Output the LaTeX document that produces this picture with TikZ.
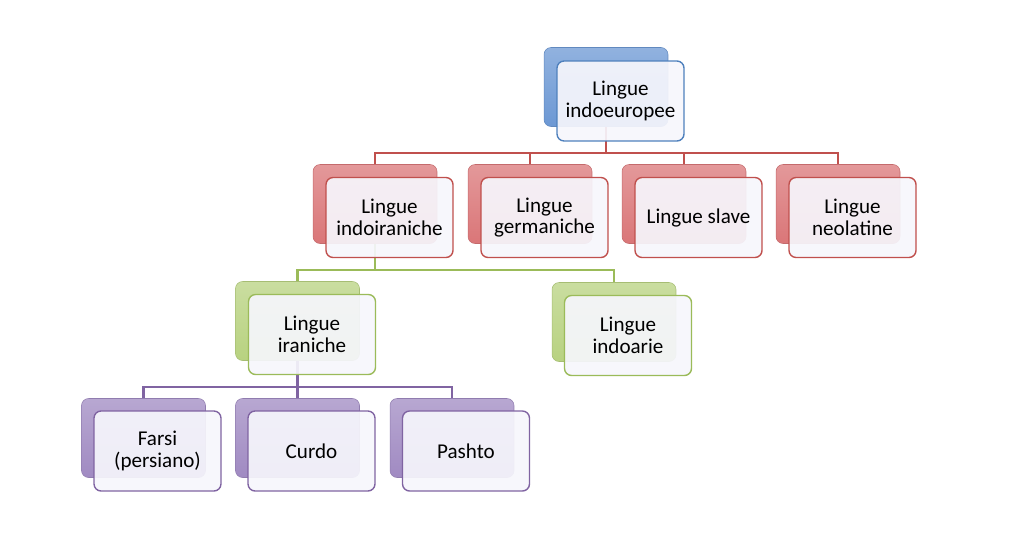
\documentclass[tikz,border=0pt]{standalone}
\usepackage{fontspec}
\setmainfont{Carlito}
\pgfdeclarelayer{bg}
\pgfsetlayers{bg,main}
\definecolor{cblue}{RGB}{79,129,189}
\definecolor{cred}{RGB}{192,80,77}
\definecolor{cgreen}{RGB}{155,187,89}
\definecolor{cpurple}{RGB}{128,100,162}
\definecolor{fblue}{RGB}{108,152,212}
\definecolor{fred}{RGB}{218,118,120}
\definecolor{fgreen}{RGB}{184,210,128}
\definecolor{fpurple}{RGB}{160,138,194}
\definecolor{frontfill}{RGB}{246,246,252}
\begin{document}
\begin{tikzpicture}[x=0.02cm,y=-0.02cm,
  frontbox/.style={draw=#1, line width=0.8pt, fill=frontfill, fill opacity=0.92, text opacity=1,
    rounded corners=4pt, minimum width=2.54cm, minimum height=1.6cm, align=center,
    font=\fontsize{12}{12.4}\selectfont, inner sep=2pt},
  backbox/.style={rounded corners=4pt, minimum width=2.48cm, minimum height=1.58cm,
    top color=#1!75!white, bottom color=#1, draw=#1!90!black, line width=0.3pt},
  link/.style={draw=#1, line width=1.5pt}]
\useasboundingbox (0,0) rectangle (1024,541);
% level 1
\node[backbox=fblue] (topB) at (606,87) {};
\node[frontbox=cblue] (top) at (620.5,101) {Lingue\\indoeuropee};
% level 2
\node[backbox=fred] (indoiranB) at (375,204) {};
\node[frontbox=cred] (indoiran) at (389.5,217.5) {Lingue\\indoiraniche};
\node[backbox=fred] (germB) at (530,204) {};
\node[frontbox=cred] (germ) at (544.5,217.5) {Lingue\\germaniche};
\node[backbox=fred] (slavB) at (684,204) {};
\node[frontbox=cred] (slav) at (698.5,217.5) {Lingue slave};
\node[backbox=fred] (neolB) at (838,204) {};
\node[frontbox=cred] (neol) at (852.5,217.5) {Lingue\\neolatine};
% level 3
\node[backbox=fgreen] (iranB) at (297.5,321) {};
\node[frontbox=cgreen] (iran) at (312,334.5) {Lingue\\iraniche};
\node[backbox=fgreen] (indoarB) at (614,322) {};
\node[frontbox=cgreen] (indoar) at (628,335.5) {Lingue\\indoarie};
% level 4
\node[backbox=fpurple] (farsiB) at (143.5,438) {};
\node[frontbox=cpurple] (farsi) at (157.5,451) {Farsi\\(persiano)};
\node[backbox=fpurple] (curdoB) at (297.5,438) {};
\node[frontbox=cpurple] (curdo) at (311.5,451) {Curdo};
\node[backbox=fpurple] (pashtoB) at (452,438) {};
\node[frontbox=cpurple] (pashto) at (466,451) {Pashto};
% connectors
\coordinate (busR) at (0,153);
\coordinate (busG) at (0,270);
\coordinate (busP) at (0,387);
\begin{pgfonlayer}{bg}
\foreach \c in {indoiranB,germB,slavB,neolB}
  \draw[link=cred] (topB.south) -- (topB.south |- busR) -| (\c.north);
\foreach \c in {iranB,indoarB}
  \draw[link=cgreen] (indoiranB.south) -- (indoiranB.south |- busG) -| (\c.north);
\foreach \c in {farsiB,curdoB,pashtoB}
  \draw[link=cpurple] (iranB.south) -- (iranB.south |- busP) -| (\c.north);
\end{pgfonlayer}
\end{tikzpicture}
\end{document}
